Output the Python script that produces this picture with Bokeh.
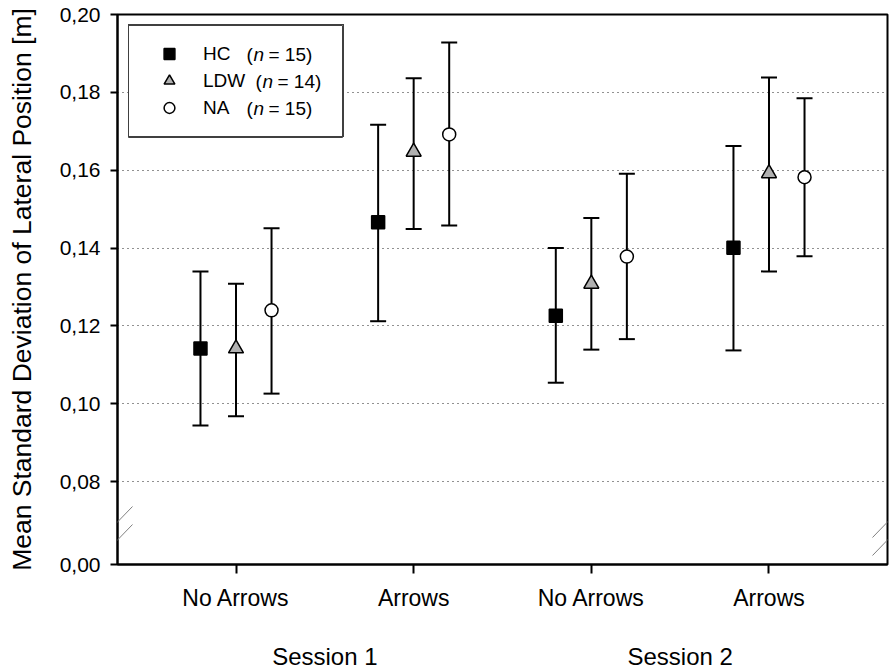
import numpy as np
from bokeh.plotting import figure
from bokeh.models import (Range1d, FixedTicker, LinearAxis, Whisker, TeeHead, ColumnDataSource,
                          CustomJSTickFormatter, Legend, LegendItem, Label, Arrow, BoxAnnotation)
from bokeh.embed import file_html
from bokeh.resources import INLINE

# ---------------- data ----------------
CATEGORIES = ["No Arrows", "Arrows", "No Arrows", "Arrows"]
SESSIONS = ["Session 1", "Session 2"]
GROUPS = ["HC", "LDW", "NA"]
GROUP_N = [15, 14, 15]
Y_TICKS = [0.00, 0.08, 0.10, 0.12, 0.14, 0.16, 0.18, 0.20]
GRID_TICKS = [0.08, 0.10, 0.12, 0.14, 0.16, 0.18]

HC_MEAN = [0.1142, 0.1466, 0.1226, 0.1401]
HC_UPPER = [0.1340, 0.1717, 0.1400, 0.1662]
HC_LOWER = [0.0944, 0.1212, 0.1054, 0.1137]

LDW_MEAN = [0.1142, 0.1647, 0.1308, 0.1592]
LDW_UPPER = [0.1308, 0.1836, 0.1477, 0.1838]
LDW_LOWER = [0.0968, 0.1449, 0.1139, 0.1340]

NA_MEAN = [0.1240, 0.1692, 0.1378, 0.1582]
NA_UPPER = [0.1451, 0.1928, 0.1591, 0.1785]
NA_LOWER = [0.1026, 0.1458, 0.1166, 0.1379]

# ---------------- layout / style ----------------
FONT = "Liberation Sans"
X_POS = np.arange(1, len(CATEGORIES) + 1)
SESSION_POS = [1.5, 3.5]
OFFSETS = [-0.2, 0.0, 0.2]
BREAK_GAP = 0.0213                 # compressed span standing for 0.00 .. 0.08
Y_START = 0.08 - BREAK_GAP
Y_TICK_POS = [Y_START] + Y_TICKS[1:]
Y_TICK_LABELS = [f"{v:.2f}".replace(".", ",") for v in Y_TICKS]

p = figure(width=889, height=672,
           x_range=Range1d(0.333, 4.667), y_range=Range1d(Y_START, 0.20),
           output_backend="svg", toolbar_location=None,
           min_border_left=117, min_border_right=2, min_border_top=14, min_border_bottom=105)
p.background_fill_color = "white"
p.border_fill_color = "white"
p.outline_line_color = "black"
p.outline_line_width = 2

# grid
p.xgrid.visible = False
p.ygrid.ticker = FixedTicker(ticks=GRID_TICKS)
p.ygrid.grid_line_color = "#222222"
p.ygrid.grid_line_dash = "1 4"
p.ygrid.grid_line_width = 1

lookup_js = """
for (let i = 0; i < pos.length; i++) {
  if (Math.abs(pos[i] - tick) < 1e-6) return labels[i];
}
return "";
"""

# y axis
yax = p.yaxis[0]
yax.ticker = FixedTicker(ticks=Y_TICK_POS)
yax.formatter = CustomJSTickFormatter(args=dict(pos=Y_TICK_POS, labels=Y_TICK_LABELS), code=lookup_js)
yax.axis_label = "Mean Standard Deviation of Lateral Position [m]"
yax.axis_label_text_font = FONT
yax.axis_label_text_font_size = "26.5px"
yax.axis_label_text_font_style = "normal"
yax.axis_label_text_color = "black"
yax.axis_label_standoff = 20
yax.major_label_text_font = FONT
yax.major_label_text_font_size = "21px"
yax.major_label_text_color = "black"
yax.major_label_standoff = 10
yax.major_tick_out = 7
yax.major_tick_in = 0
yax.minor_tick_line_color = None
yax.axis_line_width = 2
yax.major_tick_line_width = 2
yax.axis_line_color = "black"
yax.major_tick_line_color = "black"

# x axis (conditions)
xax = p.xaxis[0]
xax.ticker = FixedTicker(ticks=list(X_POS))
xax.formatter = CustomJSTickFormatter(args=dict(pos=[float(v) for v in X_POS], labels=CATEGORIES), code=lookup_js)
xax.major_label_text_font = FONT
xax.major_label_text_font_size = "23px"
xax.major_label_text_color = "black"
xax.major_label_standoff = 11
xax.major_tick_out = 9
xax.major_tick_in = 0
xax.minor_tick_line_color = None
xax.axis_line_width = 2
xax.major_tick_line_width = 2
xax.axis_line_color = "black"
xax.major_tick_line_color = "black"

# session axis
sax = LinearAxis(ticker=FixedTicker(ticks=SESSION_POS),
                 formatter=CustomJSTickFormatter(args=dict(pos=SESSION_POS, labels=SESSIONS), code=lookup_js),
                 axis_line_color=None, major_tick_line_color=None, minor_tick_line_color=None,
                 major_tick_out=0, major_tick_in=0,
                 major_label_text_font=FONT, major_label_text_font_size="24px",
                 major_label_text_color="black", major_label_standoff=29)
p.add_layout(sax, "below")

# ---------------- series ----------------
series = [
    (HC_MEAN, HC_UPPER, HC_LOWER, "square", "black", 13),
    (LDW_MEAN, LDW_UPPER, LDW_LOWER, "triangle", "#b0b0b0", 15),
    (NA_MEAN, NA_UPPER, NA_LOWER, "circle", "white", 13),
]
renderers = []
for (mean, up, lo, marker, fill, size), off in zip(series, OFFSETS):
    src = ColumnDataSource(dict(x=X_POS + off, y=mean, upper=up, lower=lo))
    w = Whisker(source=src, base="x", upper="upper", lower="lower", dimension="height",
                line_color="black", line_width=2, level="underlay",
                upper_head=TeeHead(size=16, line_width=2, line_color="black"),
                lower_head=TeeHead(size=16, line_width=2, line_color="black"))
    p.add_layout(w)
    r = p.scatter("x", "y", source=src, marker=marker, size=size,
                  fill_color=fill, line_color="black", line_width=1.5)
    renderers.append(r)

# ---------------- legend ----------------
LEG_BOTTOM, LEG_TOP = 427, 539
p.add_layout(BoxAnnotation(left=11, right=225, bottom=LEG_BOTTOM, top=LEG_TOP,
                           left_units="screen", right_units="screen",
                           bottom_units="screen", top_units="screen",
                           fill_color="white", fill_alpha=1,
                           line_color="#404040", line_width=1, line_alpha=1, level="annotation"))

legend = Legend(items=[LegendItem(label=g, renderers=[r]) for g, r in zip(GROUPS, renderers)],
                location=(11, LEG_BOTTOM), orientation="vertical", padding=15, spacing=0, margin=0,
                glyph_width=50, glyph_height=27, label_standoff=9, label_width=125, label_height=27,
                label_text_font=FONT, label_text_font_size="19px", label_text_color="black",
                border_line_color="#404040", border_line_width=1, border_line_alpha=1,
                background_fill_alpha=0)
p.add_layout(legend)

row_y = [LEG_TOP - 28.5, LEG_TOP - 55.5, LEG_TOP - 82.5]
paren_x = [129, 138, 129]
for n, y, px in zip(GROUP_N, row_y, paren_x):
    for txt, dx, style in [("(", 0, "normal"), ("n", 7, "italic"), (f"= {n})", 22, "normal")]:
        p.add_layout(Label(x=px + dx, y=y, x_units="screen", y_units="screen", text=txt,
                           text_font=FONT, text_font_size="19px", text_font_style=style,
                           text_baseline="middle", text_align="left", text_color="black",
                           level="overlay"))

# ---------------- axis break marks ----------------
for bx in (0, 770):
    for by in (9, 27):
        p.add_layout(Arrow(x_start=bx - 15, y_start=by, x_end=bx + 15, y_end=by + 31,
                           start_units="screen", end_units="screen",
                           start=None, end=None, line_color="#808080", line_width=1, level="overlay"))

open("out.html", "w").write(file_html(p, INLINE))
